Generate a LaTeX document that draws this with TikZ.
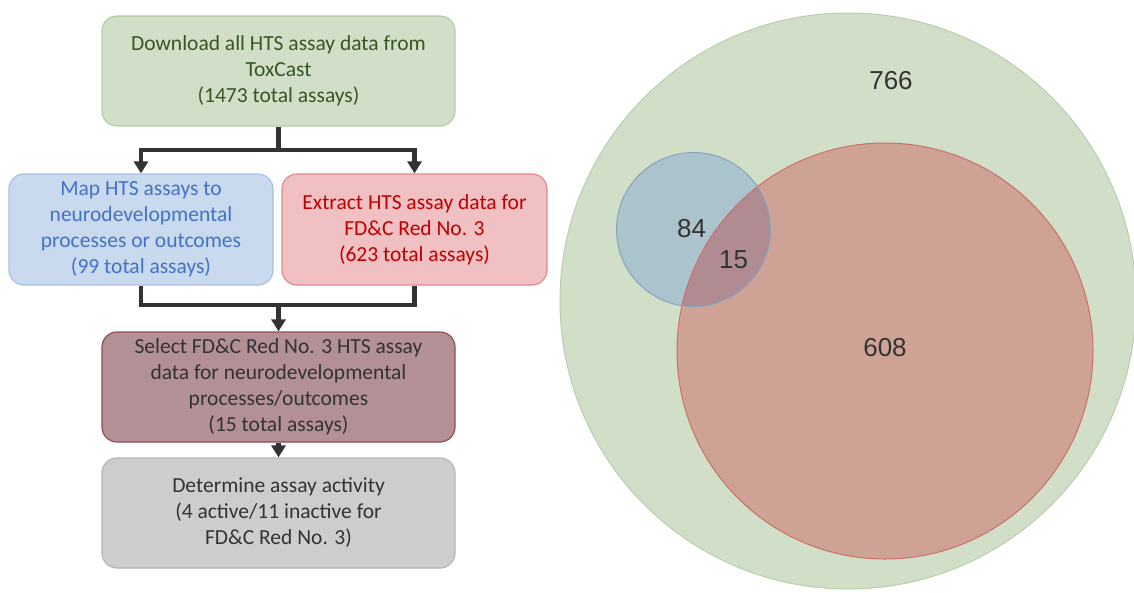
\documentclass[tikz,border=0pt]{standalone}
\usepackage{fontspec}
\setmainfont{Carlito}
\newfontfamily\vennfont{Liberation Sans}
\usetikzlibrary{arrows.meta}
\definecolor{gfill}{HTML}{D1DFC8}
\definecolor{gline}{HTML}{B3CDA5}
\definecolor{gtext}{HTML}{375623}
\definecolor{bfill}{HTML}{C9D9EE}
\definecolor{bline}{HTML}{A9C0E2}
\definecolor{btext}{HTML}{4472C4}
\definecolor{rfill}{HTML}{F0C0C2}
\definecolor{rline}{HTML}{E0898E}
\definecolor{rtext}{HTML}{C00000}
\definecolor{mfill}{HTML}{B29096}
\definecolor{mline}{HTML}{8F4D58}
\definecolor{yfill}{HTML}{CDCDCD}
\definecolor{yline}{HTML}{B5B5B5}
\definecolor{dtext}{HTML}{333333}
\definecolor{vgreen}{HTML}{D1DFC8}
\definecolor{vgreenl}{HTML}{B7CFAA}
\definecolor{vred}{HTML}{CEA396}
\definecolor{vredl}{HTML}{CC6F68}
\definecolor{vblue}{HTML}{ABC3CC}
\definecolor{vbluel}{HTML}{8AA3BD}
\definecolor{vboth}{HTML}{B08C92}
\tikzset{
  flowbox/.style={draw, line width=1.2pt, rounded corners=15pt, align=center,
    inner sep=0pt, font=\fontsize{21.5}{26}\selectfont},
  conn/.style={draw=dtext, line width=4.5pt},
  arr/.style={conn, -{Triangle[width=14pt,length=12pt]}},
  vlabel/.style={text=dtext, font=\vennfont\fontsize{26}{30}\selectfont, inner sep=0pt}
}
\begin{document}
\begin{tikzpicture}[x=1pt,y=-1pt]
\useasboundingbox (0,0) rectangle (1134,592);
% Venn diagram
\begin{scope}
\clip (0,0) rectangle (1134,592);
\path[fill=vgreen, draw=vgreenl, line width=1pt] (848,301) circle[radius=288];
\path[fill=vred] (885,351) circle[radius=208];
\path[fill=vblue] (693.5,229.5) circle[radius=77];
\begin{scope}
  \clip (885,351) circle[radius=208];
  \path[fill=vboth] (693.5,229.5) circle[radius=77];
\end{scope}
\path[draw=vredl, line width=1pt] (885,351) circle[radius=208];
\path[draw=vbluel, line width=1pt] (693.5,229.5) circle[radius=77];
\end{scope}
\node[vlabel] (n766) at (891,81) {766};
\node[vlabel] (n84) at (691.5,229) {84};
\node[vlabel] (n15) at (733.5,260) {15};
\node[vlabel] (n608) at (885,348) {608};
% Flowchart
\node[flowbox, fill=gfill, draw=gline, text=gtext, minimum width=353pt, minimum height=110pt]
  (green) at (278.5,71) {Download all HTS assay data from\\ToxCast\\(1473 total assays)};
\node[flowbox, fill=bfill, draw=bline, text=btext, minimum width=264pt, minimum height=111pt]
  (blue) at (141,229.5) {Map HTS assays to\\neurodevelopmental\\processes or outcomes\\(99 total assays)};
\node[flowbox, fill=rfill, draw=rline, text=rtext, minimum width=265pt, minimum height=111pt]
  (red) at (414.5,229.5) {Extract HTS assay data for\\FD\&C Red No. 3\\(623 total assays)};
\node[flowbox, fill=mfill, draw=mline, text=dtext, minimum width=353pt, minimum height=110pt]
  (mauve) at (278.5,387) {Select FD\&C Red No. 3 HTS assay\\data for neurodevelopmental\\processes/outcomes\\(15 total assays)};
\node[flowbox, fill=yfill, draw=yline, text=dtext, minimum width=353pt, minimum height=110pt]
  (gray) at (278.5,513) {Determine assay activity\\(4 active/11 inactive for\\FD\&C Red No. 3)};
\coordinate (j1) at (278.5,150);
\coordinate (j2) at (278.5,305);
\draw[conn] (green.south) -- (j1);
\draw[arr] (j1) -| (blue.north);
\draw[arr] (j1) -| (red.north);
\draw[conn] (blue.south) |- (j2);
\draw[conn] (red.south) |- (j2);
\draw[arr] (j2) -- (mauve.north);
\draw[arr] (mauve.south) -- (gray.north);
\end{tikzpicture}
\end{document}
